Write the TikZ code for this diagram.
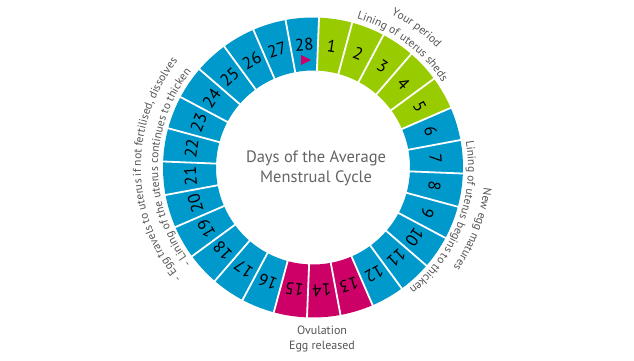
\documentclass[tikz,border=0pt]{standalone}
\usepackage{fontspec}
\setmainfont{PT Sans}
\usetikzlibrary{decorations.text}
\definecolor{segblue}{RGB}{0,153,204}
\definecolor{seggreen}{RGB}{153,204,0}
\definecolor{segmag}{RGB}{204,0,102}
\definecolor{txtgray}{RGB}{85,85,85}
\definecolor{titlegray}{RGB}{100,100,100}
\newcommand\sidefont{\fontsize{11.5}{12}\selectfont}
\tikzset{
  daynum/.style={font=\fontsize{17}{17}\selectfont, text=black, inner sep=0pt},
  sidetext/.style={decorate, decoration={text along path, text align=center, text color=txtgray, text={#1}}},
}
\begin{document}
\begin{tikzpicture}[x=1pt,y=1pt]
\useasboundingbox (0,0) rectangle (634,360);
\fill[white] (0,0) rectangle (634,360);
\begin{scope}[shift={(313,192.5)}]
  % ring segments
  \foreach \k in {1,...,28}{
    \pgfmathsetmacro\aone{87.7-(\k-1)*360/28}
    \pgfmathsetmacro\atwo{\aone-360/28}
    \pgfmathsetmacro\amid{\aone-180/28}
    \pgfmathsetmacro\rot{\amid-90}
    \ifnum\k<6 \def\segcol{seggreen}\else
      \ifnum\k>12 \ifnum\k<16 \def\segcol{segmag}\else\def\segcol{segblue}\fi
      \else\def\segcol{segblue}\fi
    \fi
    \fill[\segcol] (\aone:150pt) arc[start angle=\aone, end angle=\atwo, radius=150pt]
      -- (\atwo:97pt) arc[start angle=\atwo, end angle=\aone, radius=97pt] -- cycle;
    \node[daynum, rotate=\rot] (d\k) at (\amid:123pt) {\k};
  }
  % white separators
  \foreach \k in {1,...,28}{
    \pgfmathsetmacro\aone{87.7-(\k-1)*360/28}
    \draw[white, line width=1.8pt] (\aone:95pt) -- (\aone:152pt);
  }
  % marker triangle
  \fill[segmag] (-12,112.5) -- (-12,102.5) -- (-2,107.5) -- cycle;
  % centre title
  \node[align=center, font=\fontsize{16.5}{20}\selectfont, text=titlegray] (title) at (3,-1)
    {Days of the Average\\Menstrual Cycle};
  % ovulation label
  \node[align=center, font=\fontsize{12}{15}\selectfont, text=txtgray] (ovul) at (9,-171.5)
    {Ovulation\\Egg released};
  % curved labels
  \path[sidetext={|\sidefont|Your period}] (123.5:172pt) arc[start angle=123.5, end angle=-16.5, radius=172pt];
  \path[sidetext={|\sidefont|Lining of uterus sheds}] (123.5:155pt) arc[start angle=123.5, end angle=-16.5, radius=155pt];
  \path[sidetext={|\sidefont|New egg matures}] (49:172pt) arc[start angle=49, end angle=-91, radius=172pt];
  \path[sidetext={|\sidefont|Lining of uterus begins to thicken}] (49:155pt) arc[start angle=49, end angle=-91, radius=155pt];
  \path[sidetext={|\sidefont|- Egg travels to uterus if not fertilised, dissolves}] (251:172pt) arc[start angle=251, end angle=111, radius=172pt];
  \path[sidetext={|\sidefont|- Lining of the uterus continues to thicken}] (250:155pt) arc[start angle=250, end angle=110, radius=155pt];
\end{scope}
\end{tikzpicture}
\end{document}
